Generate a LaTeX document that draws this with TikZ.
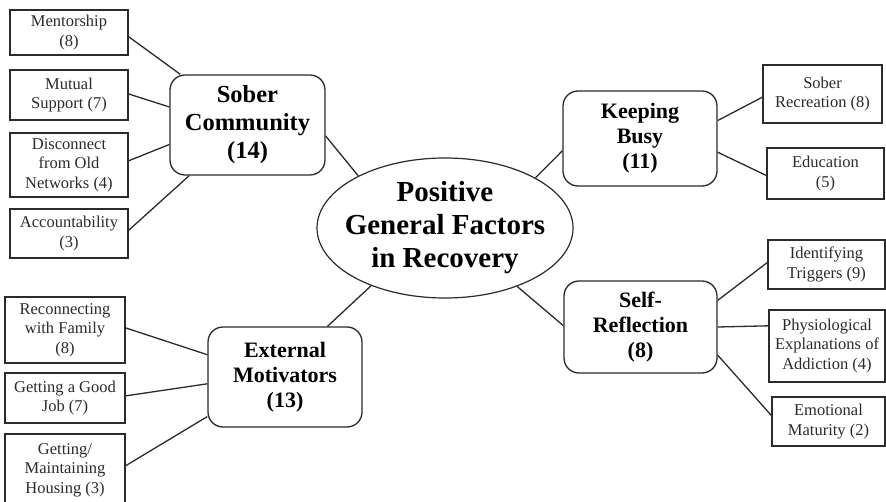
\documentclass[tikz,border=0pt]{standalone}
\usepackage{fontspec}
\setmainfont{Liberation Serif}
\usetikzlibrary{shapes.geometric}
\definecolor{ink}{HTML}{2B2B2B}
\tikzset{
  leaf/.style={draw=ink, line width=1.2pt, rectangle, inner sep=0pt, align=center,
    text=ink, font=\fontsize{16.5}{19.5}\selectfont},
  cat/.style={draw=ink, line width=1.3pt, rectangle, rounded corners=15pt, inner sep=0pt,
    align=center, text=black, font=\fontsize{22}{25}\selectfont\bfseries},
  hub/.style={draw=ink, line width=1.2pt, ellipse, inner sep=0pt, minimum width=256pt,
    minimum height=140pt},
  link/.style={draw=ink, line width=1.3pt}
}
\begin{document}
\begin{tikzpicture}[x=1pt,y=-1pt]
\useasboundingbox (0,0) rectangle (886,502);
\clip (0,0) rectangle (886,502);
\fill[white] (0,0) rectangle (886,502);

% hub
\node[hub] (hub) at (445,228) {\makebox[0pt]{\fontsize{29}{33}\selectfont\bfseries
  \begin{tabular}{@{}c@{}}Positive\\General Factors\\in Recovery\end{tabular}}};

% categories
\node[cat, minimum width=155pt, minimum height=100pt, font=\fontsize{24.5}{28}\selectfont\bfseries] (sc) at (247.5,125) {Sober\\Community\\(14)};
\node[cat, minimum width=154pt, minimum height=95pt] (kb) at (640,138.5) {Keeping\\Busy\\(11)};
\node[cat, minimum width=153pt, minimum height=92pt] (sr) at (640.5,327) {Self-\\Reflection\\(8)};
\node[cat, minimum width=154pt, minimum height=100pt] (em) at (285,377) {External\\Motivators\\(13)};

% leaves: sober community
\node[leaf, minimum width=118pt, minimum height=45pt] (ment) at (69,32.5) {Mentorship\\(8)};
\node[leaf, minimum width=118pt, minimum height=50pt] (mut) at (69,95) {Mutual\\Support (7)};
\node[leaf, minimum width=118pt, minimum height=64pt] (disc) at (69,165) {Disconnect\\from Old\\Networks (4)};
\node[leaf, minimum width=118pt, minimum height=49pt] (acc) at (69,233.5) {Accountability\\(3)};

% leaves: keeping busy
\node[leaf, minimum width=119pt, minimum height=58pt] (srec) at (822.5,94) {Sober\\Recreation (8)};
\node[leaf, minimum width=117pt, minimum height=51pt] (edu) at (825.5,173.5) {Education\\(5)};

% leaves: self-reflection
\node[leaf, minimum width=117pt, minimum height=49pt] (idt) at (826.5,264.5) {Identifying\\Triggers (9)};
\node[leaf, minimum width=116pt, minimum height=72pt] (phys) at (827,346) {Physiological\\Explanations of\\Addiction (4)};
\node[leaf, minimum width=113pt, minimum height=49pt] (emo) at (828.5,421.5) {Emotional\\Maturity (2)};

% leaves: external motivators
\node[leaf, minimum width=120pt, minimum height=66pt] (rec) at (65,330) {Reconnecting\\with Family\\(8)};
\node[leaf, minimum width=120pt, minimum height=50pt] (job) at (65,398) {Getting a Good\\Job (7)};
\node[leaf, minimum width=120pt, minimum height=72pt] (house) at (65,470) {Getting/\\Maintaining\\Housing (3)};

% connectors
\draw[link] (ment.-4.4) -- (sc.143.4);
\draw[link] (mut.1.9) -- (sc.167.6);
\draw[link] (disc.4.8) -- (sc.-166.9);
\draw[link] (acc.3.4) -- (sc.-139);
\draw[link] (sc.-8.1) -- (hub.149.9);

\draw[link] (hub.29.5) -- (kb.-171.5);
\draw[link] (kb.13.5) -- (srec.183);
\draw[link] (kb.-10.7) -- (edu.-178.5);

\draw[link] (hub.-39.6) -- (sr.179.3);
\draw[link] (sr.19.4) -- (idt.178.5);
\draw[link] (sr.east) -- (phys.161.9);
\draw[link] (sr.-20.1) -- (emo.174.4);

\draw[link] (hub.-142.1) -- (em.50);
\draw[link] (rec.2.9) -- (em.164);
\draw[link] (job.2.9) -- (em.-175.5);
\draw[link] (house.4.8) -- (em.-153.7);
\end{tikzpicture}
\end{document}
